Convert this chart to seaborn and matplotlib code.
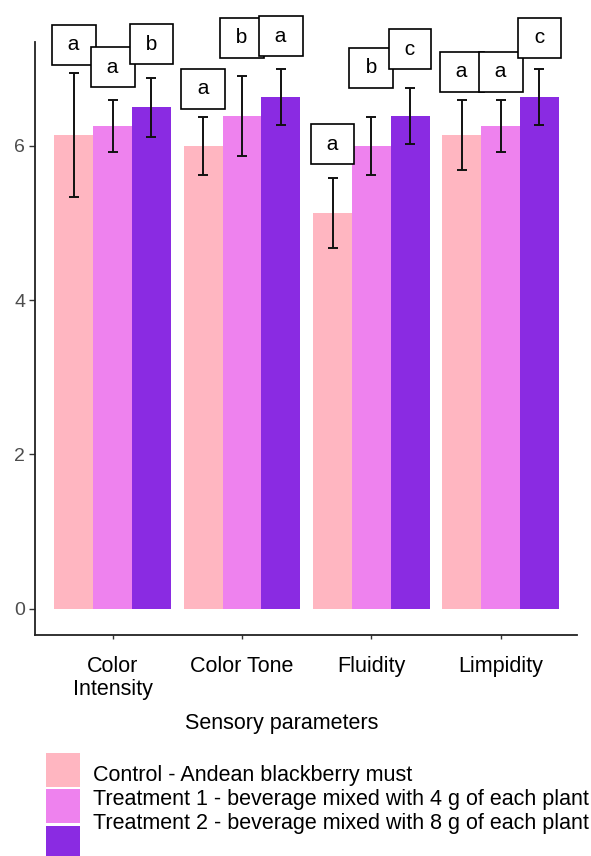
import matplotlib
matplotlib.use("Agg")
import matplotlib.pyplot as plt
from matplotlib.patches import Rectangle
from matplotlib.container import BarContainer
import seaborn as sns
import pandas as pd
import numpy as np

# ---------------- data ----------------
categories = ["Color\nIntensity", "Color Tone", "Fluidity", "Limpidity"]
treatments = [
    "Control - Andean blackberry must",
    "Treatment 1 - beverage mixed with 4 g of each plant",
    "Treatment 2 - beverage mixed with 8 g of each plant",
]
control_mean = [6.14, 6.00, 5.13, 6.14]
t1_mean = [6.26, 6.39, 6.00, 6.26]
t2_mean = [6.50, 6.63, 6.39, 6.63]
control_sd = [0.80, 0.38, 0.45, 0.455]
t1_sd = [0.335, 0.52, 0.38, 0.335]
t2_sd = [0.38, 0.365, 0.365, 0.365]
control_letters = ["a", "a", "a", "a"]
t1_letters = ["a", "b", "b", "a"]
t2_letters = ["b", "a", "c", "c"]
# heights at which the significance letters are drawn
control_letter_y = [7.31, 6.74, 6.02, 6.96]
t1_letter_y = [7.02, 7.40, 7.01, 6.96]
t2_letter_y = [7.32, 7.42, 7.25, 7.40]
y_ticks = [0, 2, 4, 6]

colors = ["#FFB6C1", "#EE82EE", "#8A2BE2"]

means = [control_mean, t1_mean, t2_mean]
sds = [control_sd, t1_sd, t2_sd]
letters = [control_letters, t1_letters, t2_letters]
letter_y = [control_letter_y, t1_letter_y, t2_letter_y]

rows = []
for t, m in zip(treatments, means):
    for c, v in zip(categories, m):
        rows.append({"Sensory parameters": c, "Treatment": t, "value": v})
df = pd.DataFrame(rows)

# ---------------- figure ----------------
sns.set_theme(style="white")
plt.rcParams["font.family"] = ["Liberation Sans", "DejaVu Sans"]

W, H = 591, 856
FS = 15.5
fig = plt.figure(figsize=(W / 100, H / 100), dpi=100)
ax = fig.add_axes([35 / W, 1 - 635 / H, (577 - 35) / W, (635 - 41.7) / H])

sns.barplot(data=df, x="Sensory parameters", y="value", hue="Treatment",
            order=categories, hue_order=treatments, palette=colors,
            width=0.9, errorbar=None, legend=False, ax=ax,
            linewidth=0, saturation=1)

bar_containers = [c for c in ax.containers if isinstance(c, BarContainer)]
for i, cont in enumerate(bar_containers):
    for j, bar in enumerate(list(cont.patches)):
        xc = bar.get_x() + bar.get_width() / 2
        ax.errorbar(xc, means[i][j], yerr=sds[i][j], fmt="none",
                    ecolor="#111111", elinewidth=1.4, capsize=3.3,
                    capthick=1.4, zorder=4)
        ax.text(xc, letter_y[i][j], " " + letters[i][j] + " ",
                ha="center", va="center", fontsize=15, color="black",
                clip_on=False, zorder=6,
                bbox=dict(boxstyle="square,pad=0.5", fc="white",
                          ec="black", lw=1.2))

ax.set_xlim(-0.6, 3.59)
ax.set_ylim(-0.34, 7.35)
ax.set_yticks(y_ticks)
ax.set_yticklabels([str(v) for v in y_ticks])
ax.set_xlabel("")
ax.set_ylabel("")

for s in ["top", "right"]:
    ax.spines[s].set_visible(False)
for s in ["left", "bottom"]:
    ax.spines[s].set_color("#222222")
    ax.spines[s].set_linewidth(1.3)

ax.tick_params(axis="y", which="both", left=True, length=4, width=1,
               color="#333333", labelsize=14, labelcolor="#4D4D4D", pad=3)
ax.tick_params(axis="x", which="both", bottom=True, length=3, width=1,
               color="#333333", labelsize=FS, labelcolor="black", pad=12)
for lab in ax.get_xticklabels():
    lab.set_linespacing(1.15)

fig.text(282 / W, 1 - 723 / H, "Sensory parameters", ha="center",
         va="center", fontsize=FS, color="black")

# ---------------- legend ----------------
key_tops = [753, 789, 826]
text_centers = [775, 799, 824]
for col, top, tc, lab in zip(colors, key_tops, text_centers, treatments):
    fig.add_artist(Rectangle((46 / W, 1 - (top + 34) / H), 34 / W, 34 / H,
                             transform=fig.transFigure, facecolor=col,
                             edgecolor="none"))
    fig.text(93 / W, 1 - tc / H, lab, ha="left", va="center",
             fontsize=FS, color="black")

fig.savefig("out.png", dpi=100)
